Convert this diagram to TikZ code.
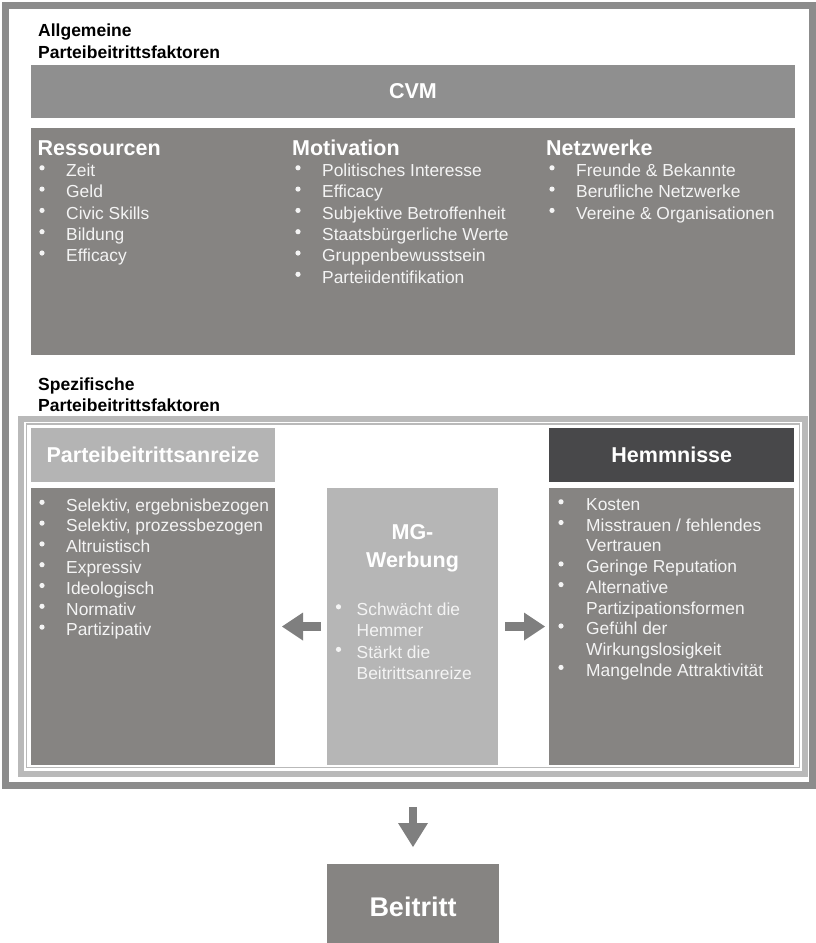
\documentclass[tikz,border=0pt]{standalone}
\usepackage{fontspec}
\setmainfont{Liberation Sans}
\usetikzlibrary{arrows.meta}
\definecolor{framegray}{HTML}{8C8C8C}
\definecolor{lightframe}{HTML}{B9B9B9}
\definecolor{cvmgray}{HTML}{8F8F8F}
\definecolor{boxgray}{HTML}{868482}
\definecolor{lightbox}{HTML}{B4B4B4}
\definecolor{mgbox}{HTML}{B6B6B6}
\definecolor{darkbox}{HTML}{48484A}
\definecolor{txtwhite}{HTML}{F4F4F4}
\definecolor{arrowgray}{HTML}{7F7F7F}
\tikzset{
  panel/.style={fill=#1, draw=none, inner sep=0pt, outer sep=0pt, anchor=north west},
  headtxt/.style={text=white, font=\fontsize{21.5}{26}\selectfont\bfseries, anchor=base west, inner sep=0pt},
  itemtxt/.style={text=txtwhite, font=\fontsize{17.4}{20}\selectfont, anchor=base west, inner sep=0pt},
  labeltxt/.style={text=black, font=\fontsize{17.5}{21}\selectfont\bfseries, anchor=base west, inner sep=0pt},
  bigarrow/.style={draw=arrowgray, line width=9pt, -{Triangle[length=21pt,width=28pt,line width=0pt]}},
}
\newcommand\bitem[5]{\fill[txtwhite] (#2,#4-8.7) circle[radius=2.6pt]; \node[itemtxt] (#1) at (#3,#4) {#5};}
\newcommand\citem[4]{\node[itemtxt] (#1) at (#3,#4) {#2};}
\begin{document}
\begin{tikzpicture}[x=1pt,y=-1pt]
\useasboundingbox (0,0) rectangle (816,943);
% outer frame
\node[draw=framegray, line width=7pt, inner sep=0pt, outer sep=0pt, minimum width=807pt, minimum height=780pt, anchor=north west] (outer) at (5.5,5.5) {};
% specific frame (double line)
\node[draw=lightframe, line width=6pt, inner sep=0pt, outer sep=0pt, minimum width=784pt, minimum height=355pt, anchor=north west] (spec) at (21,419) {};
\node[draw=lightframe, line width=1.5pt, inner sep=0pt, outer sep=0pt, minimum width=773pt, minimum height=343.5pt, anchor=north west] (specin) at (26.5,424) {};
% labels
\node[labeltxt] (lab1) at (38,36.5) {Allgemeine};
\node[labeltxt] (lab2) at (38,58) {Parteibeitrittsfaktoren};
\node[labeltxt] (lab3) at (38,390) {Spezifische};
\node[labeltxt] (lab4) at (38,411.5) {Parteibeitrittsfaktoren};
% CVM
\node[panel=cvmgray, minimum width=764pt, minimum height=53pt, text=white, font=\fontsize{21.5}{26}\selectfont\bfseries] (cvm) at (31,65) {CVM};
\node[panel=boxgray, minimum width=764pt, minimum height=227pt] (cvmbox) at (31,128) {};
\node[headtxt] (hres) at (37.5,155) {Ressourcen};
\node[headtxt] (hmot) at (292,155) {Motivation};
\node[headtxt] (hnet) at (546,155) {Netzwerke};
\foreach \t [count=\i from 0] in {Zeit,Geld,Civic Skills,Bildung,Efficacy}
  {\bitem{res\i}{42}{66}{176.5+21.3*\i}{\t}}
\foreach \t [count=\i from 0] in {Politisches Interesse,Efficacy,Subjektive Betroffenheit,Staatsbürgerliche Werte,Gruppenbewusstsein,Parteiidentifikation}
  {\bitem{mot\i}{298}{322}{176.5+21.3*\i}{\t}}
\foreach \t [count=\i from 0] in {Freunde \& Bekannte,Berufliche Netzwerke,Vereine \& Organisationen}
  {\bitem{net\i}{552}{576}{176.5+21.3*\i}{\t}}
% specific panels
\node[panel=lightbox, minimum width=244pt, minimum height=53.4pt, text=white, font=\fontsize{21.5}{26}\selectfont\bfseries] (anr) at (31,428.3) {Parteibeitrittsanreize};
\node[panel=boxgray, minimum width=244pt, minimum height=276.7pt] (anrbox) at (31,488.3) {};
\node[panel=darkbox, minimum width=245pt, minimum height=53.4pt, text=white, font=\fontsize{21.5}{26}\selectfont\bfseries] (hem) at (549.3,428.3) {Hemmnisse};
\node[panel=boxgray, minimum width=245pt, minimum height=276.7pt] (hembox) at (549.3,488.3) {};
\node[panel=mgbox, minimum width=171.6pt, minimum height=276.7pt] (mg) at (326.7,488.3) {};
\node[text=white, font=\fontsize{21.5}{26}\selectfont\bfseries, anchor=base, inner sep=0pt] (mgt1) at (412.5,539.5) {MG-};
\node[text=white, font=\fontsize{21.5}{26}\selectfont\bfseries, anchor=base, inner sep=0pt] (mgt2) at (412.5,567) {Werbung};
\foreach \t [count=\i from 0] in {{Selektiv, ergebnisbezogen},{Selektiv, prozessbezogen},Altruistisch,Expressiv,Ideologisch,Normativ,Partizipativ}
  {\bitem{anr\i}{42}{66}{511+20.8*\i}{\t}}
\bitem{hem0}{561}{586}{510.5}{Kosten}
\bitem{hem1}{561}{586}{531.2}{Misstrauen / fehlendes}
\citem{hem2}{Vertrauen}{586}{551.9}
\bitem{hem3}{561}{586}{572.6}{Geringe Reputation}
\bitem{hem4}{561}{586}{593.3}{Alternative}
\citem{hem5}{Partizipationsformen}{586}{614}
\bitem{hem6}{561}{586}{634.7}{Gefühl der}
\citem{hem7}{Wirkungslosigkeit}{586}{655.4}
\bitem{hem8}{561}{586}{676.1}{Mangelnde Attraktivität}
\bitem{mg0}{338.5}{356.5}{615.5}{Schwächt die}
\citem{mg1}{Hemmer}{356.5}{636.8}
\bitem{mg2}{338.5}{356.5}{658.1}{Stärkt die}
\citem{mg3}{Beitrittsanreize}{356.5}{679.4}
% arrows
\coordinate (ay) at (0,626.5);
\draw[bigarrow, shorten <=5.7pt, shorten >=7pt] (mg.west |- ay) -- (anrbox.east |- ay);
\draw[bigarrow, shorten <=6.7pt, shorten >=4.3pt] (mg.east |- ay) -- (hembox.west |- ay);
% result
\node[panel=boxgray, minimum width=172.6pt, minimum height=90pt] (beit) at (326.7,864.3) {};
\node[text=white, font=\fontsize{27}{32}\selectfont\bfseries, anchor=base, inner sep=0pt] (beitt) at (413,916) {Beitritt};
\draw[line width=8.5pt, draw=arrowgray, -{Triangle[length=24pt,width=30pt,line width=0pt]}, shorten <=21.5pt, shorten >=17.3pt] (outer.south -| beit.north) -- (beit.north);
\end{tikzpicture}
\end{document}
